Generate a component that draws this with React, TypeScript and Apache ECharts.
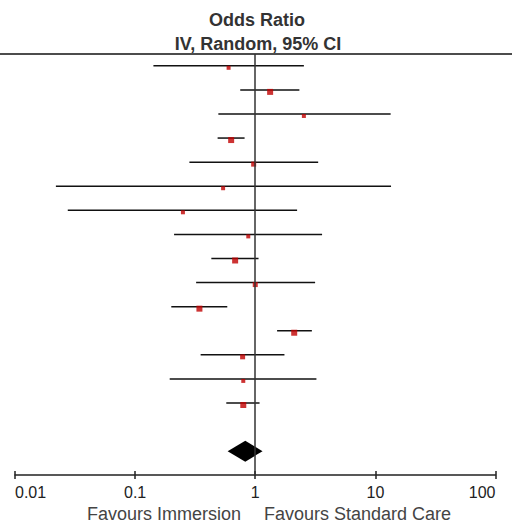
import React, { useEffect, useRef } from "react";
import * as echarts from "echarts";

// Study-level odds ratios and 95% CIs (top to bottom)
const oddsRatio = [0.6, 1.33, 2.54, 0.63, 0.97, 0.54, 0.25, 0.875, 0.68, 1.0, 0.343, 2.11, 0.785, 0.795, 0.795];
const ciLower = [0.142, 0.75, 0.493, 0.486, 0.283, 0.0219, 0.0275, 0.211, 0.431, 0.322, 0.2, 1.52, 0.351, 0.194, 0.574];
const ciUpper = [2.54, 2.33, 13.4, 0.815, 3.34, 13.5, 2.23, 3.6, 1.065, 3.15, 0.585, 2.96, 1.75, 3.23, 1.086];
const studyWeight = [3, 9, 3, 9, 6, 3, 3, 3, 9, 6, 9, 9, 6, 3, 9];

// Pooled estimate
const pooledOR = 0.826;
const pooledLower = 0.589;
const pooledUpper = 1.15;
const pooledRow = 16;

const tickValues = [0.01, 0.1, 1, 10, 100];
const titleLines = ["Odds Ratio", "IV, Random, 95% CI"];
const favourLabels = ["Favours Immersion", "Favours Standard Care"];

const FONT = "'Liberation Sans', Arial, Helvetica, sans-serif";

export default function App() {
  const ref = useRef<HTMLDivElement>(null);

  useEffect(() => {
    if (!ref.current) return;
    const chart = echarts.init(ref.current, null, { renderer: "svg" });

    const ciData = oddsRatio.map((_, i) => [ciLower[i], ciUpper[i], i]);
    const pointData = oddsRatio.map((v, i) => ({
      value: [v, i],
      symbolSize: 3 + studyWeight[i] / 3,
    }));

    const axisCommon = {
      type: "log" as const,
      logBase: 10,
      min: tickValues[0],
      max: tickValues[tickValues.length - 1],
      position: "bottom" as const,
      splitLine: { show: false },
    };

    chart.setOption({
      animation: false,
      grid: { left: 15, right: 19.5, top: 54, bottom: 50, containLabel: false },
      xAxis: [
        {
          ...axisCommon,
          axisLine: { show: true, onZero: false, lineStyle: { color: "#222", width: 1.5 } },
          axisTick: { show: true, inside: true, length: 4, lineStyle: { color: "#222", width: 1.5 } },
          axisLabel: {
            show: true,
            color: "#222",
            fontSize: 16,
            fontFamily: FONT,
            margin: 9,
            alignMinLabel: "left",
            alignMaxLabel: "right",
            formatter: (v: number) => String(v),
          },
        },
        {
          ...axisCommon,
          axisLine: { show: false, onZero: false },
          axisTick: { show: true, inside: false, length: 4, lineStyle: { color: "#222", width: 1.5 } },
          axisLabel: { show: false },
        },
      ],
      yAxis: {
        type: "value",
        inverse: true,
        min: -0.49,
        max: 16.99,
        show: false,
      },
      series: [
        {
          type: "custom",
          xAxisIndex: 0,
          renderItem: (params: any, api: any) => {
            const p1 = api.coord([api.value(0), api.value(2)]);
            const p2 = api.coord([api.value(1), api.value(2)]);
            return {
              type: "line",
              shape: { x1: p1[0], y1: p1[1], x2: p2[0], y2: p2[1] },
              style: { stroke: "#111", lineWidth: 1.5 },
            };
          },
          encode: { x: [0, 1], y: 2 },
          data: ciData,
          z: 2,
        },
        {
          type: "scatter",
          xAxisIndex: 0,
          symbol: "rect",
          symbolOffset: [0, 2],
          itemStyle: { color: "#c00000" },
          data: pointData,
          z: 3,
          markLine: {
            silent: true,
            symbol: "none",
            label: { show: false },
            lineStyle: { color: "#333", width: 1.5, type: "solid" },
            data: [{ xAxis: 1 }],
          },
        },
        {
          type: "custom",
          xAxisIndex: 0,
          renderItem: (params: any, api: any) => {
            const row = api.value(3);
            const l = api.coord([api.value(0), row]);
            const c = api.coord([api.value(1), row]);
            const r = api.coord([api.value(2), row]);
            return {
              type: "polygon",
              shape: {
                points: [
                  [l[0], l[1]],
                  [c[0], c[1] - 10.5],
                  [r[0], r[1]],
                  [c[0], c[1] + 10.5],
                ],
              },
              style: { fill: "#000" },
            };
          },
          encode: { x: [0, 1, 2], y: 3 },
          data: [[pooledLower, pooledOR, pooledUpper, pooledRow]],
          z: 4,
        },
      ],
      graphic: [
        {
          type: "line",
          shape: { x1: 0, y1: 54, x2: 512, y2: 54 },
          style: { stroke: "#111", lineWidth: 1.5 },
        },
        {
          type: "text",
          x: 257,
          y: 20,
          style: {
            text: titleLines[0],
            fill: "#333",
            font: `bold 18px ${FONT}`,
            textAlign: "center",
            textVerticalAlign: "middle",
          },
        },
        {
          type: "text",
          x: 258,
          y: 44,
          style: {
            text: titleLines[1],
            fill: "#333",
            font: `bold 18px ${FONT}`,
            textAlign: "center",
            textVerticalAlign: "middle",
          },
        },
        {
          type: "text",
          x: 241,
          y: 514,
          style: {
            text: favourLabels[0],
            fill: "#444",
            font: `18px ${FONT}`,
            textAlign: "right",
            textVerticalAlign: "middle",
          },
        },
        {
          type: "text",
          x: 264,
          y: 514,
          style: {
            text: favourLabels[1],
            fill: "#444",
            font: `18px ${FONT}`,
            textAlign: "left",
            textVerticalAlign: "middle",
          },
        },
      ],
    });

    return () => chart.dispose();
  }, []);

  return (
    <div
      ref={ref}
      style={{ position: "fixed", left: 0, top: 0, width: 515, height: 525, background: "#fff" }}
    />
  );
}
